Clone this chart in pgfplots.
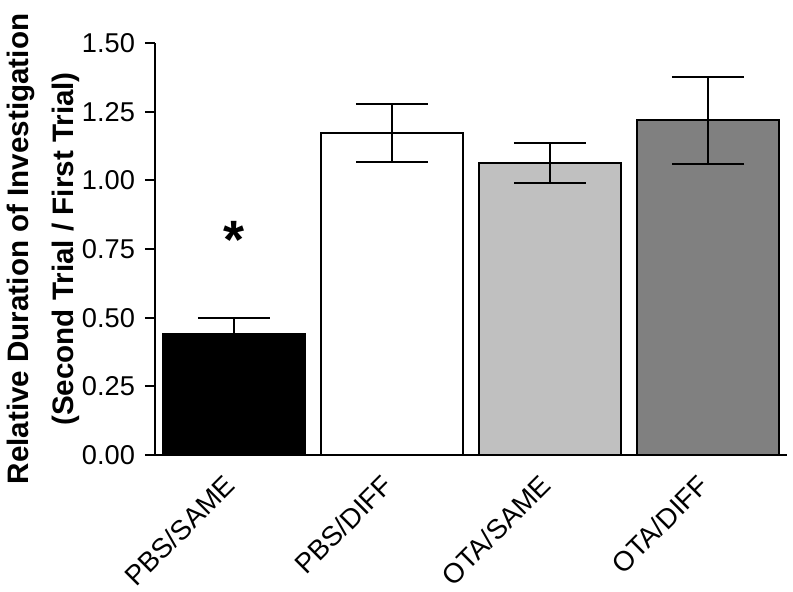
\documentclass[border=0pt]{standalone}
\usepackage{fontspec}
\setmainfont{Liberation Sans}
\usepackage{pgfplots}
\pgfplotsset{compat=1.18}

\definecolor{lightbar}{HTML}{C0C0C0}
\definecolor{darkbar}{HTML}{808080}

\pgfplotsset{errstyle/.style={
  error bars/y dir=both, error bars/y explicit,
  error bars/error bar style={line width=1pt, black},
  error bars/error mark options={line width=1pt, black, mark size=18pt, rotate=90},
}}

\begin{document}
\begin{tikzpicture}
\useasboundingbox (-77.5pt,-68.5pt) rectangle (319pt,227.5pt);
\begin{axis}[
  scale only axis, width=316pt, height=206pt,
  anchor=south west, at={(0,0)},
  xmin=-0.5, xmax=3.5, ymin=0, ymax=1.5,
  axis lines*=left,
  axis line style={line width=1pt},
  ytick={0,0.25,0.5,0.75,1,1.25,1.5},
  yticklabel style={/pgf/number format/fixed, /pgf/number format/fixed zerofill,
    /pgf/number format/precision=2, /pgf/number format/assume math mode=true,
    font=\fontsize{13.6}{15}\selectfont, xshift=-1.5pt},
  ytick style={line width=1pt, black},
  major tick length=5pt,
  tick align=outside,
  xtick={0,1,2,3},
  xticklabels={PBS/SAME, PBS/DIFF, OTA/SAME, OTA/DIFF},
  xtick style={draw=none},
  xticklabel style={font=\fontsize{13.8}{15}\selectfont, xshift=-5.75pt, yshift=-4pt, rotate=45, anchor=north east, inner sep=0pt},
  ybar, bar width=0.905, bar shift=0pt,
  clip=false,
]
\addplot[fill=black, draw=black, line width=1pt, errstyle] coordinates {(0,0.44) +- (0,0.06)};
\addplot[fill=white, draw=black, line width=1pt, errstyle] coordinates {(1,1.172) +- (0,0.107)};
\addplot[fill=lightbar, draw=black, line width=1pt, errstyle] coordinates {(2,1.062) +- (0,0.073)};
\addplot[fill=darkbar, draw=black, line width=1pt, errstyle] coordinates {(3,1.219) +- (0,0.158)};
\node[anchor=base, inner sep=0pt, font=\fontsize{27}{27}\selectfont\bfseries] at (axis cs:0,0.715) {*};
\end{axis}
\node[rotate=90, anchor=north, inner sep=0pt, align=center,
  font=\fontsize{14.8}{22.5}\selectfont\bfseries] at (-74pt,103pt)
  {Relative Duration of Investigation\\(Second Trial / First Trial)};
\end{tikzpicture}
\end{document}
